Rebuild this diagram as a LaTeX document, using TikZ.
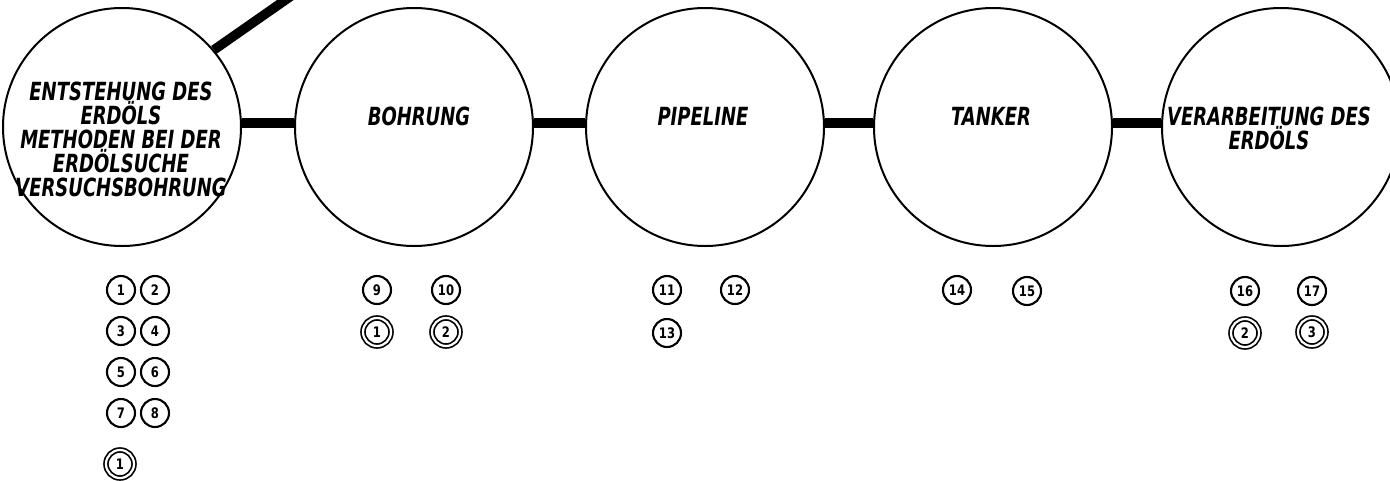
\documentclass[tikz,border=0pt]{standalone}
\usepackage{fontspec}
\setmainfont{DejaVu Sans}
\newfontfamily\lettering{DejaVu Sans}[FakeStretch=0.72]
\newfontfamily\digitfont{DejaVu Sans}[FakeStretch=0.8]
\begin{document}
\begin{tikzpicture}[x=1pt,y=-1pt,
  stage/.style={circle,draw,line width=2pt,minimum size=238pt,inner sep=0pt},
  conn/.style={line width=9.5pt},
  title/.style={font=\lettering\fontsize{25}{24}\selectfont\bfseries\itshape,align=center,inner sep=0pt},
  num/.style={circle,draw,line width=2.1pt,minimum size=28pt,inner sep=0pt,
    font=\digitfont\fontsize{14.5}{14}\selectfont\bfseries},
  dbl/.style={num,double,line width=1.7pt,double distance=2.2pt}]
\useasboundingbox (0,0) rectangle (1390,480);
\clip (0,0) rectangle (1390,480);

% the five stages
\node[stage] (c1) at (122,127) {};
\node[stage] (c2) at (414,127) {};
\node[stage] (c3) at (705,127) {};
\node[stage] (c4) at (993,127) {};
\node[stage] (c5) at (1281,127) {};

% stage titles
\node[title] (t1) at (121,139) {ENTSTEHUNG DES\\ERDÖLS\\METHODEN BEI DER\\ERDÖLSUCHE\\VERSUCHSBOHRUNG};
\node[title] (t2) at (419,116) {BOHRUNG};
\node[title] (t3) at (703,116) {PIPELINE};
\node[title] (t4) at (991,116) {TANKER};
\node[title] (t5) at (1269,128) {VERARBEITUNG DES\\ERDÖLS};

% links between the stages
\draw[conn] ([yshift=4pt]c1.east) -- ([yshift=4pt]c2.west);
\draw[conn] ([yshift=4pt]c2.east) -- ([yshift=4pt]c3.west);
\draw[conn] ([yshift=4pt]c3.east) -- ([yshift=4pt]c4.west);
\draw[conn] ([yshift=4pt]c4.east) -- ([yshift=4pt]c5.west);
% link leaving the first stage towards the top edge
\coordinate (up) at (357,-50);
\draw[conn] (c1.40) -- (up);

% numbered items under each stage
\node[num] (n1) at (121,290) {1};
\node[num] (n2) at (155,290) {2};
\node[num] (n3) at (121,331) {3};
\node[num] (n4) at (155,331) {4};
\node[num] (n5) at (121,372) {5};
\node[num] (n6) at (155,372) {6};
\node[num] (n7) at (121,413) {7};
\node[num] (n8) at (155,413) {8};
\node[dbl] (d1a) at (120,464) {1};

\node[num] (n9) at (377,290) {9};
\node[num] (n10) at (446,290) {10};
\node[dbl] (d1b) at (377,332) {1};
\node[dbl] (d2a) at (446,332) {2};

\node[num] (n11) at (667,290) {11};
\node[num] (n12) at (735,290) {12};
\node[num] (n13) at (667,333) {13};

\node[num] (n14) at (957,290) {14};
\node[num] (n15) at (1027,291) {15};

\node[num] (n16) at (1245,291) {16};
\node[num] (n17) at (1312,291) {17};
\node[dbl] (d2b) at (1245,333) {2};
\node[dbl] (d3) at (1312,332) {3};
\end{tikzpicture}
\end{document}
